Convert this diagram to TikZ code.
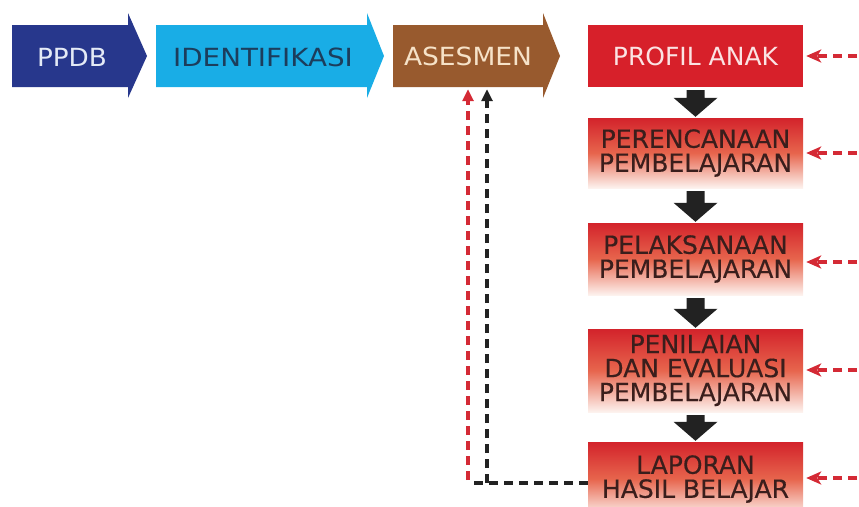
\documentclass[tikz,border=0pt]{standalone}
\usepackage{fontspec}
\setmainfont{DejaVu Sans}
\newfontfamily\heavyfont[FakeBold=0.35]{DejaVu Sans}
\usetikzlibrary{calc,arrows.meta}
\definecolor{cppdb}{HTML}{27378C}
\definecolor{cident}{HTML}{19ADE6}
\definecolor{cases}{HTML}{985A2E}
\definecolor{cred}{HTML}{D7202A}
\definecolor{ctop}{HTML}{D3232B}
\definecolor{cmid}{HTML}{E7654D}
\definecolor{clow}{HTML}{FDF2EE}
\definecolor{tppdb}{HTML}{E4EAF6}
\definecolor{tident}{HTML}{1C3D5C}
\definecolor{tases}{HTML}{F6E2C8}
\definecolor{tprof}{HTML}{FBE3E3}
\definecolor{tbox}{HTML}{3A1E1C}
\definecolor{dred}{HTML}{D42A35}
\definecolor{dblack}{HTML}{222222}
\tikzset{
  lbl/.style={font=\fontsize{25}{24}\selectfont, inner sep=0pt, align=center},
  flowbox/.style={lbl, font=\heavyfont\fontsize{25}{24}\selectfont, minimum width=215pt, text=tbox,
    top color=ctop, bottom color=clow, middle color=cmid},
  redbox/.style={lbl, minimum width=215pt, fill=cred, text=tprof},
  fatarrow/.style={fill=dblack},
  rdash/.style={draw=dred, line width=3.5pt, dash pattern=on 9pt off 6pt},
  bdash/.style={draw=dblack, line width=3.5pt, dash pattern=on 9pt off 6pt},
  rtip/.style={-{Stealth[length=15pt,width=13pt,inset=4pt,fill=dred]}},
  btip/.style={-{Triangle[length=12pt,width=11pt]}},
}
\begin{document}
\begin{tikzpicture}[x=1pt,y=-1pt]
\useasboundingbox (0,0) rectangle (859,506);
% top row arrows
\fill[cppdb] (12,25) -- (128,25) -- (128,13) -- (147,56) -- (128,98) -- (128,87) -- (12,87) -- cycle;
\fill[cident] (156,25) -- (367,25) -- (367,13) -- (384,56) -- (367,98) -- (367,87) -- (156,87) -- cycle;
\fill[cases] (393,25) -- (543,25) -- (543,13) -- (560,56) -- (543,98) -- (543,87) -- (393,87) -- cycle;
\node[lbl, text=tppdb] (ppdb) at (72,57) {\scalebox{1.05}[1]{PPDB}};
\node[lbl, text=tident] (ident) at (263,57) {\scalebox{1.11}[1]{IDENTIFIKASI}};
\node[lbl, text=tases, minimum width=150pt, minimum height=62pt] (ases) at (468,56) {\scalebox{1.06}[1]{ASESMEN}};
% right column
\node[redbox, minimum height=62pt] (p1) at (695.5,56) {PROFIL ANAK};
\node[flowbox, minimum height=70pt] (p2) at (695.5,153) {PERENCANAAN\\PEMBELAJARAN};
\node[flowbox, minimum height=72pt] (p3) at (695.5,259) {PELAKSANAAN\\PEMBELAJARAN};
\node[flowbox, minimum height=83pt] (p4) at (695.5,370.5) {PENILAIAN\\DAN EVALUASI\\PEMBELAJARAN};
\node[flowbox, minimum height=74pt] (p5) at (695.5,479) {LAPORAN\\HASIL BELAJAR};
% fat down arrows
\foreach \a/\b in {p1/p2,p2/p3,p3/p4,p4/p5}{
  \fill[fatarrow] ($(\a.south)+(-9,3)$) -- ($(\b.north)+(-9,-20)$) -- ($(\b.north)+(-22,-20)$)
    -- ($(\b.north)+(0,-1)$) -- ($(\b.north)+(22,-20)$) -- ($(\b.north)+(9,-20)$)
    -- ($(\a.south)+(9,3)$) -- cycle;
}
% right dashed arrows
\foreach \n/\yy in {p1/56,p2/153,p3/262,p4/370,p5/478}{
  \coordinate (r\n) at (872,\yy);
  \draw[rdash, rtip, shorten >=3pt] (r\n) -- (r\n -| \n.east);
}
% left feedback
\coordinate (rc) at (468,480);
\coordinate (bc) at (487,483);
\coordinate (bl) at (468,483);
\draw[bdash] (p5.west |- bc) -- (bl);
\draw[rdash, btip, draw=dred, shorten >=2pt] (rc) -- (ases.south);
\draw[bdash, btip, shorten >=2pt] (bc) -- (bc |- ases.south);
\end{tikzpicture}
\end{document}
